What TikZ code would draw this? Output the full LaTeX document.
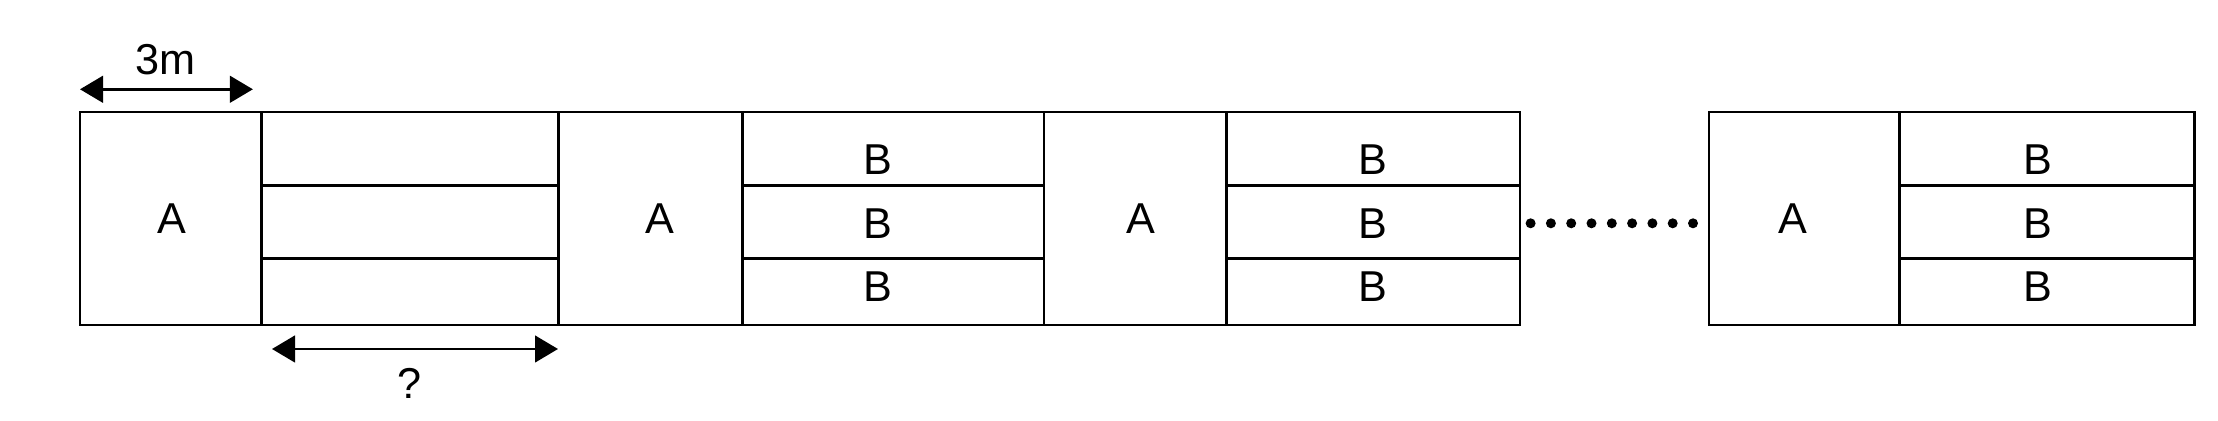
\documentclass[tikz,border=0pt]{standalone}
\usepackage{fontspec}
\setmainfont{Liberation Sans}
\usetikzlibrary{arrows.meta}
\begin{document}
\begin{tikzpicture}[x=0.5pt,y=-0.5pt,
  cell/.style={draw, line width=1.35pt},
  lbl/.style={font=\fontsize{21.6}{26}\selectfont, inner sep=0pt, anchor=center},
  dim/.style={line width=1.35pt, {Triangle[length=11.5pt,width=13.3pt]}-{Triangle[length=11.5pt,width=13.3pt]}},
  dotmark/.style={circle, fill, inner sep=0pt, minimum size=5pt}]
\useasboundingbox (0,0) rectangle (2218,421);
% block 1
\draw[cell] (80,112) rectangle (261.5,325);
\draw[cell] (261.5,112) rectangle (558.5,185.3);
\draw[cell] (261.5,185.3) rectangle (558.5,258.8);
\draw[cell] (261.5,258.8) rectangle (558.5,325);
% block 2
\draw[cell] (558.5,112) rectangle (742.6,325);
\draw[cell] (742.6,112) rectangle (1044,185.3);
\draw[cell] (742.6,185.3) rectangle (1044,258.8);
\draw[cell] (742.6,258.8) rectangle (1044,325);
% block 3
\draw[cell] (1044,112) rectangle (1226.5,325);
\draw[cell] (1226.5,112) rectangle (1520,185.3);
\draw[cell] (1226.5,185.3) rectangle (1520,258.8);
\draw[cell] (1226.5,258.8) rectangle (1520,325);
% block 4
\draw[cell] (1709,112) rectangle (1899.5,325);
\draw[cell] (1899.5,112) rectangle (2194.5,185.3);
\draw[cell] (1899.5,185.3) rectangle (2194.5,258.8);
\draw[cell] (1899.5,258.8) rectangle (2194.5,325);
% labels
\node[lbl] (a1) at (171.5,218.7) {A};
\node[lbl] (a2) at (659.5,218.7) {A};
\node[lbl] (a3) at (1141,218.7) {A};
\node[lbl] (a4) at (1793,218.7) {A};
\foreach \x/\n in {878/1,1372.5/2,2037.5/3}{
  \node[lbl] (b\n t) at (\x,160) {B};
  \node[lbl] (b\n m) at (\x,224) {B};
  \node[lbl] (b\n b) at (\x,286.7) {B};
}
% dots
\foreach \i in {0,...,8}{
  \node[dotmark] (dot\i) at (1530.6+20.3*\i,223.3) {};
}
% dimensions
\coordinate (d1a) at (80,89.3);
\coordinate (d1b) at (252.9,89.3);
\draw[dim] (d1a) -- (d1b);
\node[lbl] (t3m) at (165.5,60) {3m};
\coordinate (d2a) at (272,349);
\coordinate (d2b) at (558,349);
\draw[dim] (d2a) -- (d2b);
\node[lbl] (tq) at (410,383.7) {?};
\end{tikzpicture}
\end{document}
